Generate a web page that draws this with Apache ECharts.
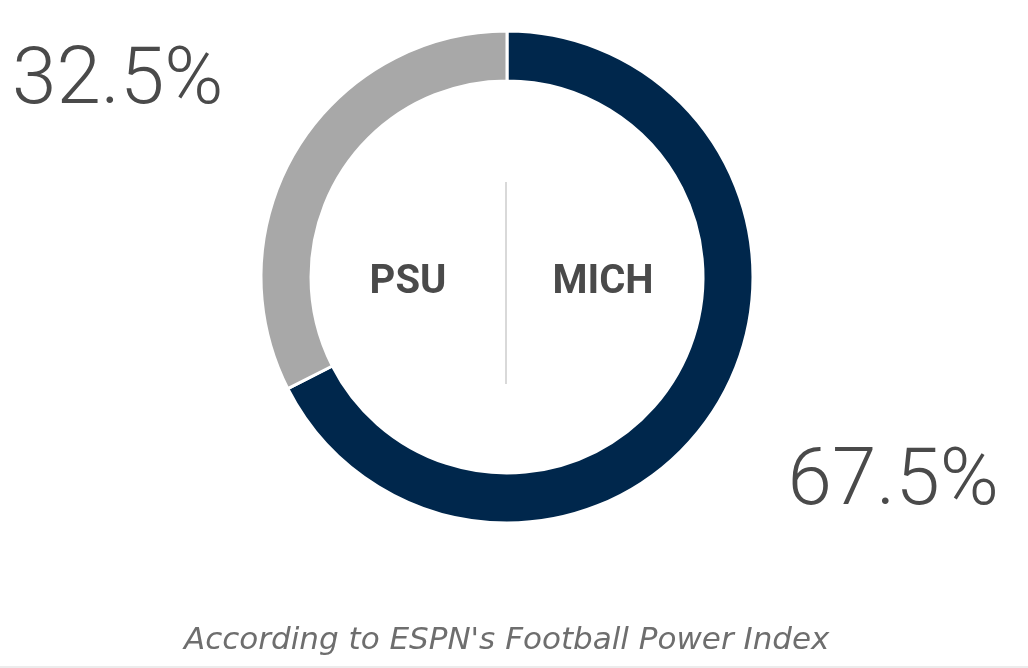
<!DOCTYPE html>
<html>
<head>
<meta charset="utf-8">
<script src="https://cdn.jsdelivr.net/npm/echarts@6/dist/echarts.min.js"></script>
<style>
  html, body { margin: 0; padding: 0; background: #fff; }
  #main { width: 1028px; height: 668px; }
</style>
</head>
<body>
<div id="main"></div>
<script>
// teams and win probability (ESPN FPI)
const teams = ['MICH', 'PSU']
const winPct = [67.5, 32.5]
const colors = ['#00274C', '#A8A8A8']
const note = "According to ESPN's Football Power Index"

const chart = echarts.init(document.getElementById('main'))

const option = {
    backgroundColor: '#fff',
    animation: false,
    title: {
        text: note,
        left: 179,
        top: 620,
        textStyle: {
            fontFamily: 'DejaVu Sans',
            fontStyle: 'italic',
            fontWeight: 'normal',
            fontSize: 31,
            color: '#6e6e6e'
        }
    },
    graphic: [
        // divider between the two names
        {
            type: 'line',
            shape: { x1: 506, y1: 182, x2: 506, y2: 384 },
            style: { stroke: '#d9d9d9', lineWidth: 2 }
        },
        {
            type: 'text',
            x: 408, y: 283,
            style: {
                text: teams[1], align: 'center', verticalAlign: 'middle',
                fontFamily: 'Roboto', fontWeight: 'bold', fontSize: 40, fill: '#4a4a4a'
            }
        },
        {
            type: 'text',
            x: 603, y: 283,
            style: {
                text: teams[0], align: 'center', verticalAlign: 'middle',
                fontFamily: 'Roboto', fontWeight: 'bold', fontSize: 40, fill: '#4a4a4a'
            }
        },
        // thin rule at the very bottom
        {
            type: 'rect',
            shape: { x: 0, y: 666, width: 1028, height: 2 },
            style: { fill: '#ececec' }
        }
    ],
    series: [
        {
            type: 'pie',
            center: [507, 277],
            radius: [196, 246],
            startAngle: 90,
            clockwise: true,
            silent: true,
            itemStyle: { borderColor: '#fff', borderWidth: 3 },
            label: {
                show: true,
                formatter: p => p.value + '%',
                fontFamily: 'Roboto',
                fontWeight: 300,
                fontSize: 80,
                color: '#4a4a4a'
            },
            labelLine: { show: false },
            labelLayout: p => p.dataIndex === 0
                ? { x: 999, y: 484, align: 'right', verticalAlign: 'middle' }
                : { x: 12, y: 83, align: 'left', verticalAlign: 'middle' },
            data: teams.map((t, i) => ({
                name: t,
                value: winPct[i],
                itemStyle: { color: colors[i] }
            }))
        }
    ]
}

chart.setOption(option)
</script>
</body>
</html>
